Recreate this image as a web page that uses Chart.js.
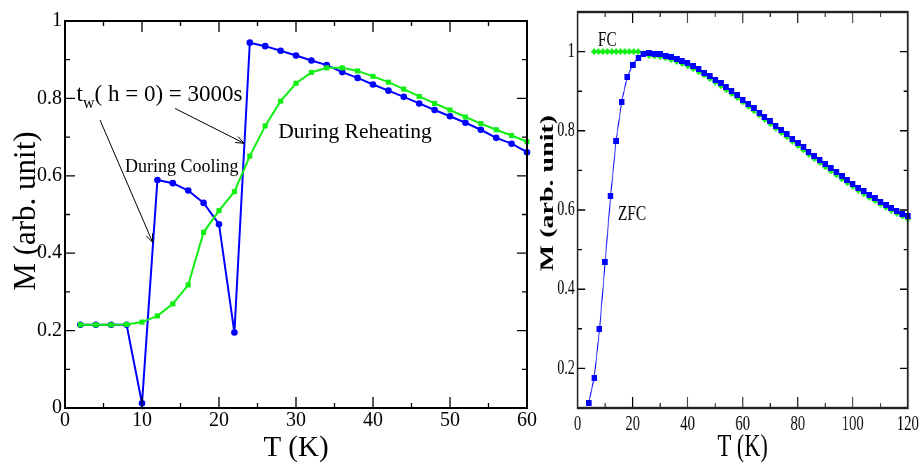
<!DOCTYPE html>
<html>
<head>
<meta charset="utf-8">
<script src="https://cdn.jsdelivr.net/npm/chart.js@4.4.1/dist/chart.umd.min.js"></script>
<style>
  html, body { margin: 0; padding: 0; background: #fff; }
  body { width: 919px; height: 462px; position: relative; overflow: hidden; }
  canvas { position: absolute; top: 0; }
</style>
</head>
<body>
<canvas id="left" width="540" height="462" style="left:0;width:540px;height:462px"></canvas>
<canvas id="right" width="556" height="462" style="left:530px;width:389px;height:462px"></canvas>
<script>
// ---------- left panel: waiting experiment ----------
const coolT = [2, 4, 6, 8, 10, 12, 14, 16, 18, 20, 22, 24, 26, 28, 30, 32, 34, 36, 38, 40, 42, 44, 46, 48, 50, 52, 54, 56, 58, 60];
const coolM = [0.215, 0.215, 0.215, 0.215, 0.012, 0.589, 0.581, 0.562, 0.530, 0.475, 0.195, 0.944, 0.935, 0.923, 0.911,
               0.898, 0.886, 0.868, 0.853, 0.836, 0.820, 0.804, 0.787, 0.770, 0.754, 0.737, 0.719, 0.698, 0.683, 0.661];
const heatT = [2, 4, 6, 8, 10, 12, 14, 16, 18, 20, 22, 24, 26, 28, 30, 32, 34, 36, 38, 40, 42, 44, 46, 48, 50, 52, 54, 56, 58, 60];
const heatM = [0.215, 0.215, 0.215, 0.216, 0.222, 0.238, 0.269, 0.318, 0.454, 0.510, 0.559, 0.651, 0.729, 0.793, 0.839,
               0.867, 0.879, 0.879, 0.871, 0.857, 0.842, 0.824, 0.805, 0.787, 0.770, 0.752, 0.735, 0.719, 0.704, 0.688];

const leftXMajor = [0, 10, 20, 30, 40, 50, 60];
const leftXMinor = [5, 15, 25, 35, 45, 55];
const leftYMajor = [0, 0.2, 0.4, 0.6, 0.8, 1];
const leftYMinor = [0.1, 0.3, 0.5, 0.7, 0.9];

// ---------- right panel: ZFC / FC ----------
const zfcT = [4, 6, 8, 10, 12, 14, 16, 18, 20, 22, 24, 26, 28, 30, 32, 34, 36, 38, 40, 42, 44, 46, 48, 50, 52, 54, 56, 58, 60,
              62, 64, 66, 68, 70, 72, 74, 76, 78, 80, 82, 84, 86, 88, 90, 92, 94, 96, 98, 100, 102, 104, 106, 108, 110,
              112, 114, 116, 118, 120];
const zfcM = [0.112, 0.175, 0.300, 0.468, 0.636, 0.775, 0.873, 0.935, 0.967, 0.985, 0.993, 0.996, 0.995, 0.993, 0.990,
              0.986, 0.981, 0.976, 0.970, 0.963, 0.955, 0.947, 0.938, 0.929, 0.920, 0.910, 0.900, 0.890, 0.879,
              0.868, 0.857, 0.846, 0.835, 0.824, 0.813, 0.802, 0.791, 0.780, 0.769, 0.758, 0.747, 0.736, 0.726, 0.715,
              0.705, 0.695, 0.685, 0.675, 0.666, 0.656, 0.647, 0.638, 0.630, 0.621, 0.613, 0.605, 0.598, 0.591, 0.584];
const fcT = [6, 7.6, 9.2, 10.8, 12.4, 14, 15.6, 17.2, 18.8, 20.4, 22, 24, 26, 28, 30, 32, 34, 36, 38, 40, 42, 44, 46, 48,
             50, 52, 54, 56, 58, 60, 62, 64, 66, 68, 70, 72, 74, 76, 78, 80, 82, 84, 86, 88, 90, 92, 94, 96, 98, 100,
             102, 104, 106, 108, 110, 112, 114, 116, 118, 120];
const fcM = [1, 1, 1, 1, 1, 1, 1, 1, 1, 1, 1, 0.994, 0.990, 0.989, 0.987, 0.984, 0.980, 0.975, 0.970, 0.964, 0.957, 0.949,
             0.941, 0.932, 0.923, 0.914, 0.904, 0.894, 0.884, 0.873, 0.862, 0.851, 0.840, 0.829, 0.818, 0.807, 0.796,
             0.785, 0.774, 0.763, 0.752, 0.741, 0.730, 0.720, 0.709, 0.699, 0.689, 0.679, 0.669, 0.660, 0.650, 0.641,
             0.632, 0.624, 0.615, 0.607, 0.599, 0.592, 0.585, 0.578];

const rightXMajor = [0, 20, 40, 60, 80, 100, 120];
const rightXMinor = [10, 30, 50, 70, 90, 110];
const rightYMajor = [0.2, 0.4, 0.6, 0.8, 1.0];
const rightYMinor = [0.3, 0.5, 0.7, 0.9];

const BLUE = '#0000ff';
const GREEN = '#11ee11';
const SERIF = "'Liberation Serif', 'Times New Roman', serif";

const pts = (xs, ys) => xs.map((x, i) => ({ x, y: ys[i] }));

// labels like the original: "0", "0.2", ..., "1"
const tenths = v => {
  const r = Math.round(v * 10);
  return r % 10 === 0 ? String(r / 10) : (r / 10).toFixed(1);
};

// fixed axis box sizes so the plot frames land where the original ones are
function fixAxis(size) {
  return s => {
    if (s.isHorizontal()) s.height = size; else s.width = size;
    s.paddingLeft = s.paddingRight = s.paddingTop = s.paddingBottom = 0;
  };
}

// small canvas markers for the right panel (canvas is squeezed horizontally)
function marker(w, h, color, shape) {
  const c = document.createElement('canvas');
  c.width = w; c.height = h;
  const g = c.getContext('2d');
  g.fillStyle = color;
  if (shape === 'diamond') {
    g.beginPath();
    g.moveTo(w / 2, 0); g.lineTo(w, h / 2); g.lineTo(w / 2, h); g.lineTo(0, h / 2);
    g.closePath(); g.fill();
  } else {
    g.fillRect(0, 0, w, h);
  }
  return c;
}

function arrow(ctx, x1, y1, x2, y2) {
  const ang = Math.atan2(y2 - y1, x2 - x1), L = 9, w = 0.38;
  ctx.beginPath();
  ctx.moveTo(x1, y1); ctx.lineTo(x2, y2);
  ctx.moveTo(x2, y2); ctx.lineTo(x2 - L * Math.cos(ang - w), y2 - L * Math.sin(ang - w));
  ctx.moveTo(x2, y2); ctx.lineTo(x2 - L * Math.cos(ang + w), y2 - L * Math.sin(ang + w));
  ctx.stroke();
}

// frame, inward ticks on all four sides, axis titles, annotations
function decor(cfg) {
  return {
    id: 'decor',
    afterDraw(chart) {
      const { ctx, chartArea: a, scales: { x, y } } = chart;
      ctx.save();
      ctx.strokeStyle = '#000';
      ctx.lineWidth = cfg.tickWidth;
      ctx.beginPath();
      const xt = (vals, len) => vals.forEach(v => {
        const px = x.getPixelForValue(v);
        ctx.moveTo(px, a.bottom); ctx.lineTo(px, a.bottom - len);
        ctx.moveTo(px, a.top); ctx.lineTo(px, a.top + len);
      });
      const yt = (vals, len) => vals.forEach(v => {
        const py = y.getPixelForValue(v);
        ctx.moveTo(a.left, py); ctx.lineTo(a.left + len, py);
        ctx.moveTo(a.right, py); ctx.lineTo(a.right - len, py);
      });
      xt(cfg.xMajor, cfg.xLen[0]); xt(cfg.xMinor, cfg.xLen[1]);
      yt(cfg.yMajor, cfg.yLen[0]); yt(cfg.yMinor, cfg.yLen[1]);
      ctx.stroke();

      ctx.strokeStyle = cfg.frameColor;
      ctx.lineWidth = cfg.frameWidth;
      ctx.strokeRect(a.left, a.top, a.right - a.left, a.bottom - a.top);

      ctx.fillStyle = '#000';
      ctx.textBaseline = 'alphabetic';
      ctx.textAlign = 'center';
      ctx.font = cfg.xTitleFont;
      ctx.fillText('T (K)', (a.left + a.right) / 2, cfg.xTitleY);
      ctx.save();
      ctx.translate(cfg.yTitleX, cfg.yTitleY);
      ctx.rotate(-Math.PI / 2);
      ctx.font = cfg.yTitleFont;
      ctx.fillText('M (arb. unit)', 0, 0);
      ctx.restore();

      ctx.textAlign = 'left';
      if (cfg.extra) cfg.extra(ctx, x, y);
      ctx.restore();
    }
  };
}

Chart.defaults.font.family = SERIF;
Chart.defaults.color = '#000';

const commonOpts = {
  responsive: false,
  devicePixelRatio: 1,
  animation: false,
  events: [],
  plugins: { legend: { display: false }, tooltip: { enabled: false } }
};

// ---------- left chart ----------
new Chart(document.getElementById('left'), {
  type: 'scatter',
  data: {
    datasets: [
      {
        label: 'During Reheating', data: pts(heatT, heatM), showLine: true,
        borderColor: GREEN, borderWidth: 2, pointStyle: 'rect', pointRadius: 3.6,
        pointBackgroundColor: GREEN, pointBorderWidth: 0, clip: false
      },
      {
        label: 'During Cooling', data: pts(coolT, coolM), showLine: true,
        borderColor: BLUE, borderWidth: 2, pointStyle: 'circle', pointRadius: 3.3,
        pointBackgroundColor: BLUE, pointBorderWidth: 0, clip: false
      }
    ]
  },
  options: {
    ...commonOpts,
    layout: { padding: { top: 21, right: 13, left: 0, bottom: 0 } },
    scales: {
      x: {
        type: 'linear', min: 0, max: 60,
        ticks: { stepSize: 10, font: { size: 20 }, padding: 1, maxRotation: 0 },
        grid: { display: false, drawTicks: false }, border: { display: false },
        afterFit: fixAxis(54)
      },
      y: {
        type: 'linear', min: 0, max: 1,
        ticks: { stepSize: 0.2, font: { size: 20 }, padding: 3, callback: v => tenths(v) },
        grid: { display: false, drawTicks: false }, border: { display: false },
        afterFit: fixAxis(65)
      }
    }
  },
  plugins: [decor({
    xMajor: leftXMajor, xMinor: leftXMinor, yMajor: leftYMajor, yMinor: leftYMinor,
    xLen: [11, 5], yLen: [10, 5], tickWidth: 1.3, frameWidth: 2, frameColor: '#000',
    xTitleFont: `29px ${SERIF}`, xTitleY: 456,
    yTitleFont: `31px ${SERIF}`, yTitleX: 35, yTitleY: 211,
    extra(ctx, x, y) {
      // t_w( h = 0) = 3000s
      let px = x.getPixelForValue(1.5), py = y.getPixelForValue(0.793);
      ctx.font = `23px ${SERIF}`;
      ctx.fillText('t', px, py);
      px += ctx.measureText('t').width;
      ctx.font = `16px ${SERIF}`;
      ctx.fillText('w', px, py + 7);
      px += ctx.measureText('w').width;
      ctx.font = `23px ${SERIF}`;
      ctx.fillText('( h = 0) = 3000s', px, py);

      ctx.font = `18px ${SERIF}`;
      ctx.fillText('During Cooling', x.getPixelForValue(7.8), y.getPixelForValue(0.61));
      ctx.font = `21.5px ${SERIF}`;
      ctx.fillText('During Reheating', x.getPixelForValue(27.7), y.getPixelForValue(0.698));

      ctx.strokeStyle = '#000';
      ctx.lineWidth = 1;
      arrow(ctx, x.getPixelForValue(4.55), y.getPixelForValue(0.744), x.getPixelForValue(11.39), y.getPixelForValue(0.428));
      arrow(ctx, x.getPixelForValue(14.29), y.getPixelForValue(0.774), x.getPixelForValue(23.25), y.getPixelForValue(0.684));
    }
  })]
});

// ---------- right chart (drawn on a canvas squeezed to 70% width) ----------
new Chart(document.getElementById('right'), {
  type: 'scatter',
  data: {
    datasets: [
      {
        label: 'ZFC', data: pts(zfcT, zfcM), showLine: true,
        borderColor: BLUE, borderWidth: 1.3, pointStyle: marker(8, 6, BLUE, 'square'),
        pointRadius: 4, clip: false
      },
      {
        label: 'FC', data: pts(fcT, fcM), showLine: true,
        borderColor: GREEN, borderWidth: 1.3, pointStyle: marker(9, 7, GREEN, 'diamond'),
        pointRadius: 3, clip: false
      }
    ]
  },
  options: {
    ...commonOpts,
    layout: { padding: { top: 12, right: 16, left: 0, bottom: 0 } },
    scales: {
      x: {
        type: 'linear', min: 0, max: 120,
        ticks: { stepSize: 20, font: { size: 21 }, padding: 4, maxRotation: 0 },
        grid: { display: false, drawTicks: false }, border: { display: false },
        afterFit: fixAxis(54)
      },
      y: {
        type: 'linear', min: 0.1, max: 1.1,
        ticks: {
          stepSize: 0.1, font: { size: 20 }, padding: 4, autoSkip: false,
          callback: v => {
            const r = Math.round(v * 10);
            if (r % 2 !== 0 || r < 2 || r > 10) return '';
            return tenths(v);
          }
        },
        grid: { display: false, drawTicks: false }, border: { display: false },
        afterFit: fixAxis(68)
      }
    }
  },
  plugins: [decor({
    xMajor: rightXMajor, xMinor: rightXMinor, yMajor: rightYMajor, yMinor: rightYMinor,
    xLen: [11, 5], yLen: [11, 6], tickWidth: 1.4, frameWidth: 2.4, frameColor: '#222',
    xTitleFont: `32px ${SERIF}`, xTitleY: 456,
    yTitleFont: `bold 28px ${SERIF}`, yTitleX: 33, yTitleY: 193,
    extra(ctx, x, y) {
      ctx.font = `22px ${SERIF}`;
      ctx.fillText('FC', x.getPixelForValue(7.4), y.getPixelForValue(1.013));
      ctx.fillText('ZFC', x.getPixelForValue(14.65), y.getPixelForValue(0.575));
    }
  })]
});
</script>
</body>
</html>
